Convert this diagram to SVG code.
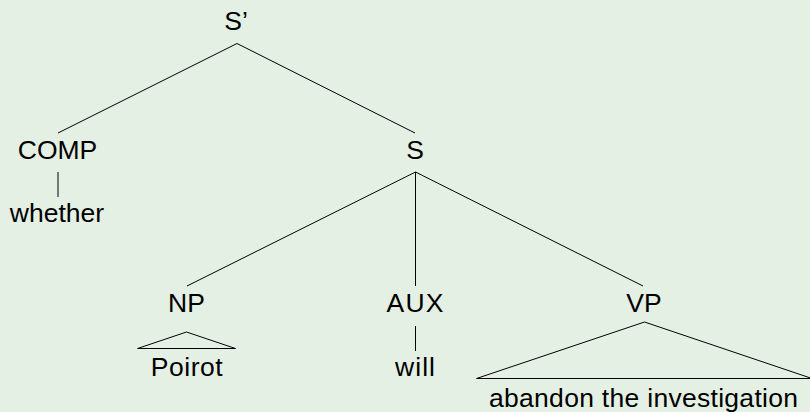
<svg xmlns="http://www.w3.org/2000/svg" width="810" height="412" viewBox="0 0 810 412">
<style>
  text { font-family: "Liberation Sans", Arial, sans-serif; font-size: 26.5px; fill: #000; text-anchor: middle; }
  .edge { stroke: #000; stroke-width: 1; fill: none; }
</style>
<rect x="0" y="0" width="810" height="412" fill="#e5f0e4"/>
<g id="connectors">
  <line class="edge" x1="237" y1="43.5" x2="58" y2="133"/>
  <line class="edge" x1="237" y1="43.5" x2="415" y2="133"/>
  <line class="edge" x1="58" y1="172" x2="58" y2="197"/>
  <line class="edge" x1="415.5" y1="172" x2="187" y2="286"/>
  <line class="edge" x1="415.5" y1="172" x2="415.5" y2="286"/>
  <line class="edge" x1="415.5" y1="172" x2="643" y2="286"/>
  <polygon class="edge" points="186.5,332 137.5,348.5 235.5,348.5"/>
  <line class="edge" x1="415.5" y1="326" x2="415.5" y2="351"/>
  <polygon class="edge" points="644.5,322 476.5,378.5 812,378.5"/>
</g>
<g id="node-Sbar"><text x="236" y="30">S’</text></g>
<g id="node-COMP"><text x="57.5" y="159">COMP</text></g>
<g id="node-whether"><text x="57" y="222">whether</text></g>
<g id="node-S"><text x="415" y="159">S</text></g>
<g id="node-NP"><text x="186.5" y="312">NP</text></g>
<g id="node-Poirot"><text x="186.7" y="376" textLength="72" lengthAdjust="spacing">Poirot</text></g>
<g id="node-AUX"><text x="415" y="312" textLength="57" lengthAdjust="spacing">AUX</text></g>
<g id="node-will"><text x="415" y="376" textLength="40" lengthAdjust="spacing">will</text></g>
<g id="node-VP"><text x="644" y="312">VP</text></g>
<g id="node-abandon"><text x="643.5" y="407" textLength="309" lengthAdjust="spacing">abandon the investigation</text></g>
</svg>
